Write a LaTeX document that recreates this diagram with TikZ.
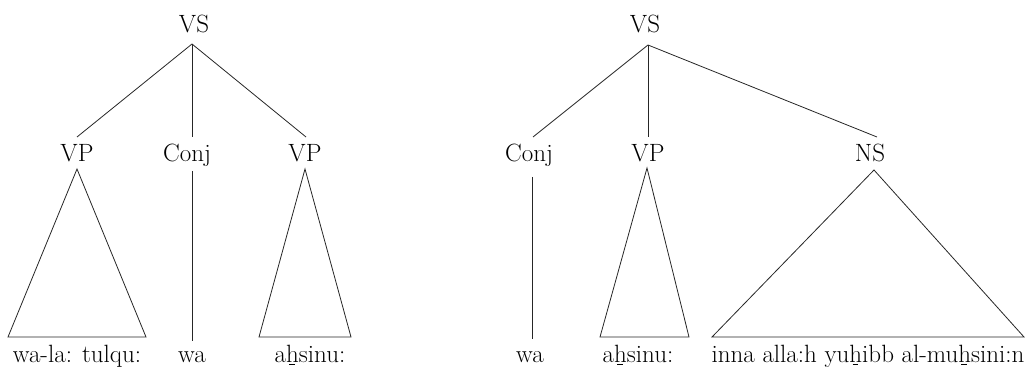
\documentclass[tikz,border=0pt]{standalone}
\usepackage{fontspec}
\newcommand\hbelow{\leavevmode\hbox{h\llap{\makebox[0.556em]{\rule[-0.13em]{0.22em}{0.06em}}}}}
\tikzset{
  lbl/.style={inner sep=0pt, anchor=base, font=\rmfamily\fontsize{25}{30}\selectfont},
  branch/.style={draw=black!85, line width=0.8pt},
  tri/.style={draw=black!85, line width=0.8pt, line join=miter}
}
\begin{document}
\begin{tikzpicture}[x=1pt,y=-1pt]
\useasboundingbox (0,0) rectangle (1035,374);
% ---------- left tree ----------
\node[lbl] (vsA) at (194,33) {VS};
\node[lbl] (vpA) at (77,162) {VP};
\node[lbl] (cjA) at (187,162) {Conj};
\node[lbl] (vpB) at (305,162) {VP};
\coordinate (vsAb) at (192,44);
\coordinate (vpAt) at (77,137);
\coordinate (cjAt) at (192,137);
\coordinate (vpBt) at (306,137);
\draw[branch] (vsAb) -- (vpAt);
\draw[branch] (vsAb) -- (cjAt);
\draw[branch] (vsAb) -- (vpBt);
\coordinate (vpAa) at (77,169);
\draw[tri] (vpAa) -- (8,337) -- (146,337) -- cycle;
\coordinate (cjAa) at (192,171);
\coordinate (cjAe) at (192,341);
\draw[branch] (cjAa) -- (cjAe);
\coordinate (vpBa) at (305,169);
\draw[tri] (vpBa) -- (259,337) -- (351,337) -- cycle;
\node[lbl] (wA) at (77,362) {wa-la: tulqu:};
\node[lbl] (wB) at (192,362) {wa};
\node[lbl] (wC) at (310,362) {a\hbelow sinu:};
% ---------- right tree ----------
\node[lbl] (vsB) at (645,33) {VS};
\node[lbl] (cjB) at (529,162) {Conj};
\node[lbl] (vpC) at (648,162) {VP};
\node[lbl] (nsA) at (870,162) {NS};
\coordinate (vsBb) at (648,45);
\coordinate (cjBt) at (533,137);
\coordinate (vpCt) at (648,137);
\coordinate (nsAt) at (877,137);
\draw[branch] (vsBb) -- (cjBt);
\draw[branch] (vsBb) -- (vpCt);
\draw[branch] (vsBb) -- (nsAt);
\coordinate (cjBa) at (532,177);
\coordinate (cjBe) at (532,339);
\draw[branch] (cjBa) -- (cjBe);
\coordinate (vpCa) at (647,168);
\draw[tri] (vpCa) -- (600,337) -- (689,337) -- cycle;
\coordinate (nsAa) at (874,170);
\draw[tri] (nsAa) -- (712,337) -- (1024,337) -- cycle;
\node[lbl] (wD) at (530,362) {wa};
\node[lbl] (wE) at (638,362) {a\hbelow sinu:};
\node[lbl] (wF) at (868,362) {inna alla:h yu\hbelow ibb al-mu\hbelow sini:n};
\end{tikzpicture}
\end{document}
